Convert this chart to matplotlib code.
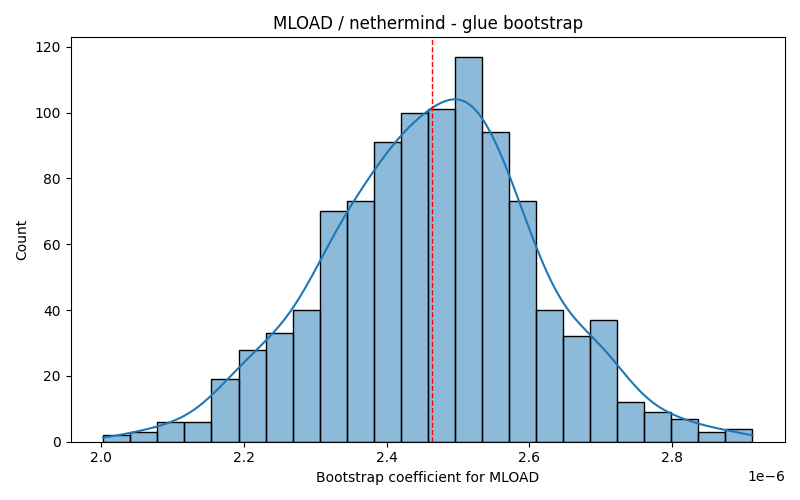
import matplotlib
matplotlib.use("Agg")
import matplotlib.pyplot as plt
import numpy as np
import pandas as pd
import seaborn as sns

# bootstrap histogram (1000 samples, 24 bins)
bin_start = 2.0028e-6
bin_stop = 2.9123e-6
counts = [2, 3, 6, 6, 19, 28, 33, 40, 70, 73, 91, 100,
          101, 117, 94, 73, 40, 32, 37, 12, 9, 7, 3, 4]
point_estimate = 2.4629e-6

edges = np.linspace(bin_start, bin_stop, len(counts) + 1)
centers = (edges[:-1] + edges[1:]) / 2
df = pd.DataFrame({"coef": centers, "n": counts})

# weighted kde has a small effective n, so shrink bw to match 1000 samples
fig, ax = plt.subplots(figsize=(8, 5), dpi=100)
sns.histplot(data=df, x="coef", weights="n", bins=len(counts),
             binrange=(bin_start, bin_stop), kde=True,
             kde_kws={"bw_adjust": 0.45, "cut": 0.3}, ax=ax)
ax.axvline(point_estimate, color="red", linestyle="--", linewidth=1)
ax.set_title("MLOAD / nethermind - glue bootstrap")
ax.set_xlabel("Bootstrap coefficient for MLOAD")
ax.set_ylabel("Count")

plt.tight_layout()
plt.savefig("out.png")
